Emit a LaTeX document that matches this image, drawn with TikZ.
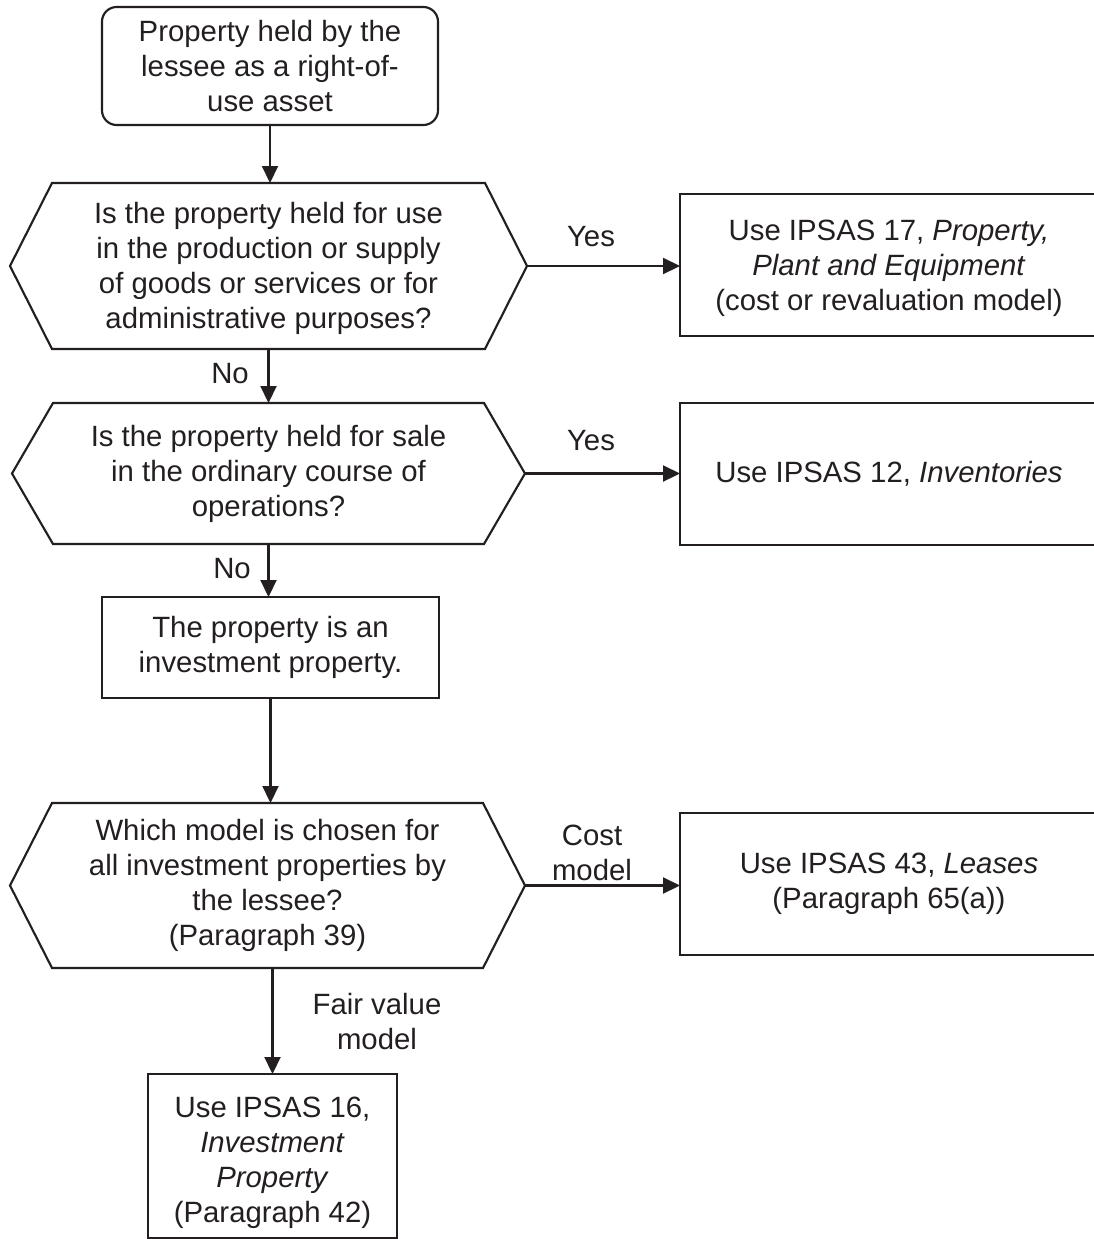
\documentclass[tikz,border=0pt]{standalone}
\usepackage{fontspec}
\setmainfont{Liberation Sans}
\usetikzlibrary{arrows.meta}
\definecolor{ink}{RGB}{35,31,32}
\newcommand\hexout[2]{\draw[hexline] (#1.west) -- ([xshift=#2]#1.north west) -- ([xshift=-#2]#1.north east) -- (#1.east) -- ([xshift=-#2]#1.south east) -- ([xshift=#2]#1.south west) -- cycle;}
\begin{document}
\begin{tikzpicture}[x=0.75pt,y=-0.75pt,
  every node/.style={font=\fontsize{22}{26.25}\selectfont, text=ink, align=center, inner sep=0pt, outer sep=0pt},
  startbox/.style={draw=ink, line width=1.6pt, rounded corners=11pt, minimum width=252pt, minimum height=88.5pt},
  sidebox/.style={draw=ink, line width=1.6pt, minimum width=313.5pt, minimum height=106.5pt},
  plainbox/.style={draw=ink, line width=1.6pt},
  hexnode/.style={draw=none},
  hexline/.style={draw=ink, line width=1.6pt, line join=miter},
  arr/.style={draw=ink, line width=1.6pt, -{Triangle[length=12.75pt,width=12pt]}},
  lbl/.style={anchor=base}]
\useasboundingbox (0,0) rectangle (1094,1239);
\clip (0,0) rectangle (1094,1239);
\fill[white] (0,0) rectangle (1094,1239);

% nodes
\node[startbox] (start) at (270,66) {Property held by the\\lessee as a right-of-\\use asset};

\node[hexnode, minimum width=387.75pt, minimum height=124.5pt] (q1) at (268.5,266)
  {\rule{0pt}{19pt}Is the property held for use\\in the production or supply\\of goods or services or for\\administrative purposes?};
\hexout{q1}{31.5pt}

\node[sidebox] (ppe) at (889,265) {\rule{0pt}{20.5pt}Use IPSAS 17, \textit{Property,}\\\textit{Plant and Equipment}\\(cost or revaluation model)};

\node[hexnode, minimum width=384.75pt, minimum height=105.75pt] (q2) at (268.5,473.5)
  {Is the property held for sale\\in the ordinary course of\\operations?};
\hexout{q2}{30.75pt}

\node[sidebox] (inv) at (889,474) {Use IPSAS 12, \textit{Inventories}};

\node[plainbox, minimum width=252.75pt, minimum height=75.75pt] (ip) at (270.5,647.5)
  {The property is an\\investment property.};

\node[hexnode, minimum width=386.25pt, minimum height=123.75pt] (q3) at (267.5,885.5)
  {Which model is chosen for\\all investment properties by\\the lessee?\\(Paragraph 39)};
\hexout{q3}{31.5pt}

\node[sidebox] (lease) at (889,884) {Use IPSAS 43, \textit{Leases}\\(Paragraph 65(a))};

\node[plainbox, minimum width=186.75pt, minimum height=123pt] (ip16) at (272.5,1156)
  {\rule{0pt}{25pt}Use IPSAS 16,\\\textit{Investment}\\\textit{Property}\\(Paragraph 42)};

% connectors
\draw[arr] (start.south) -- (start.south |- q1.north);
\draw[arr] (q1.south) -- (q1.south |- q2.north);
\draw[arr] (q1.east) -- (ppe.west |- q1.east);
\draw[arr] (q2.east) -- (inv.west |- q2.east);
\draw[arr] (q2.south) -- (q2.south |- ip.north);
\draw[arr] (ip.south) -- (ip.south |- q3.north);
\draw[arr] (q3.east) -- (lease.west |- q3.east);
\draw[arr] (ip16.north |- q3.south) -- (ip16.north);

% labels
\node[lbl] (yes1) at (591,246) {Yes};
\node[lbl] (yes2) at (591,450) {Yes};
\node[lbl] (no1) at (230,383) {No};
\node[lbl] (no2) at (232,578) {No};
\node (costm) at (592,853) {Cost\\model};
\node (fairm) at (377,1021.5) {Fair value\\model};
\end{tikzpicture}
\end{document}
